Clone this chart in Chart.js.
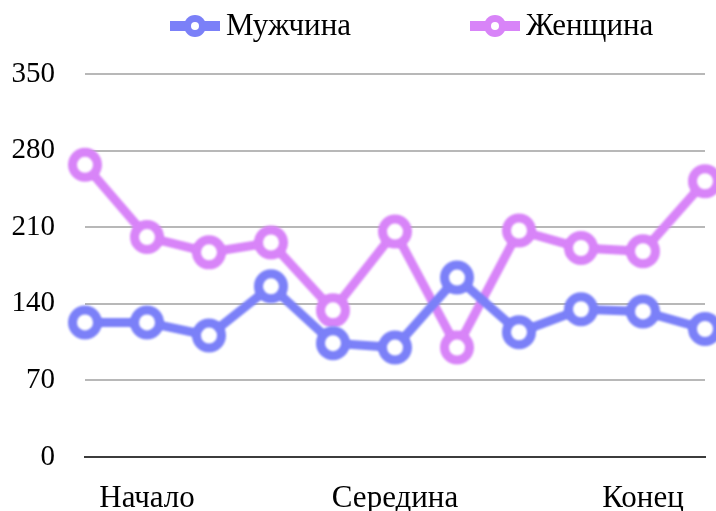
<!DOCTYPE html>
<html>
<head>
<meta charset="utf-8">
<script src="https://cdn.jsdelivr.net/npm/chart.js@4/dist/chart.umd.min.js"></script>
<style>
  html, body { margin: 0; padding: 0; background: #ffffff; }
  #wrap { width: 716px; height: 511px; }
</style>
</head>
<body>
<div id="wrap"><canvas id="chart" width="716" height="511"></canvas></div>
<script>
// Category labels along the bottom (only three are named)
const categories = ['', 'Начало', '', '', '', 'Середина', '', '', '', 'Конец', ''];

// Series values
const menValues   = [123, 123, 111, 156, 104, 100, 164, 114, 135, 133, 117];
const womenValues = [267, 201, 187, 196, 134, 206, 100, 207, 191, 188, 252];

const seriesNames = ['Мужчина', 'Женщина'];
const yTicks = [0, 70, 140, 210, 280, 350];

const BLUE = '#7b80f8';
const PURPLE = '#d884f8';
const FONT = "'Liberation Serif', 'Times New Roman', serif";

// Soften the data marks slightly
const softMarks = {
  id: 'softMarks',
  beforeDatasetsDraw(chart) { chart.ctx.save(); chart.ctx.filter = 'blur(0.8px)'; },
  afterDatasetsDraw(chart) { chart.ctx.restore(); }
};

// Legend row: thick line with a ring, then the series name
const lineLegend = {
  id: 'lineLegend',
  afterDraw(chart) {
    const ctx = chart.ctx;
    const startX = [170, 470];
    const cy = 26;
    ctx.save();
    ctx.font = '31px ' + FONT;
    ctx.textBaseline = 'middle';
    ctx.textAlign = 'left';
    chart.data.datasets.forEach((ds, i) => {
      const x = startX[i];
      ctx.fillStyle = ds.borderColor;
      ctx.fillRect(x, cy - 5, 50, 10);
      ctx.beginPath();
      ctx.arc(x + 25, cy, 11, 0, Math.PI * 2);
      ctx.fill();
      ctx.fillStyle = '#ffffff';
      ctx.beginPath();
      ctx.arc(x + 25, cy, 4, 0, Math.PI * 2);
      ctx.fill();
      ctx.fillStyle = '#000000';
      ctx.fillText(ds.label, x + 56, cy + 1);
    });
    ctx.restore();
  }
};

function makeSet(label, data, color) {
  return {
    label, data,
    borderColor: color,
    backgroundColor: '#ffffff',
    borderWidth: 9,
    pointRadius: 12.5,
    pointHoverRadius: 12.5,
    pointBorderWidth: 9,
    pointBackgroundColor: '#ffffff',
    pointBorderColor: color,
    tension: 0,
    clip: false
  };
}

new Chart(document.getElementById('chart'), {
  type: 'line',
  data: {
    labels: categories,
    datasets: [
      makeSet(seriesNames[0], menValues, BLUE),
      makeSet(seriesNames[1], womenValues, PURPLE)
    ]
  },
  plugins: [softMarks, lineLegend],
  options: {
    responsive: false,
    animation: false,
    devicePixelRatio: 1,
    layout: { autoPadding: false, padding: { left: 0, right: 11, top: 74, bottom: 0 } },
    plugins: {
      tooltip: { enabled: false },
      legend: { display: false }
    },
    scales: {
      x: {
        offset: false,
        afterFit(scale) {
          scale.height = 54;
          scale.paddingLeft = 0;
          scale.paddingRight = 0;
        },
        grid: { display: false, drawTicks: false },
        border: { display: true, color: '#3c3c3c', width: 2 },
        ticks: {
          autoSkip: false,
          maxRotation: 0,
          padding: 23,
          color: '#000000',
          font: { family: FONT, size: 31 }
        }
      },
      y: {
        min: 0,
        max: 350,
        afterFit(scale) { scale.width = 85; },
        afterBuildTicks(axis) { axis.ticks = yTicks.map(v => ({ value: v })); },
        grid: { color: '#b8b8b8', lineWidth: 2, drawTicks: false },
        border: { display: false },
        ticks: {
          padding: 30,
          color: '#000000',
          font: { family: FONT, size: 29 }
        }
      }
    }
  }
});
</script>
</body>
</html>
